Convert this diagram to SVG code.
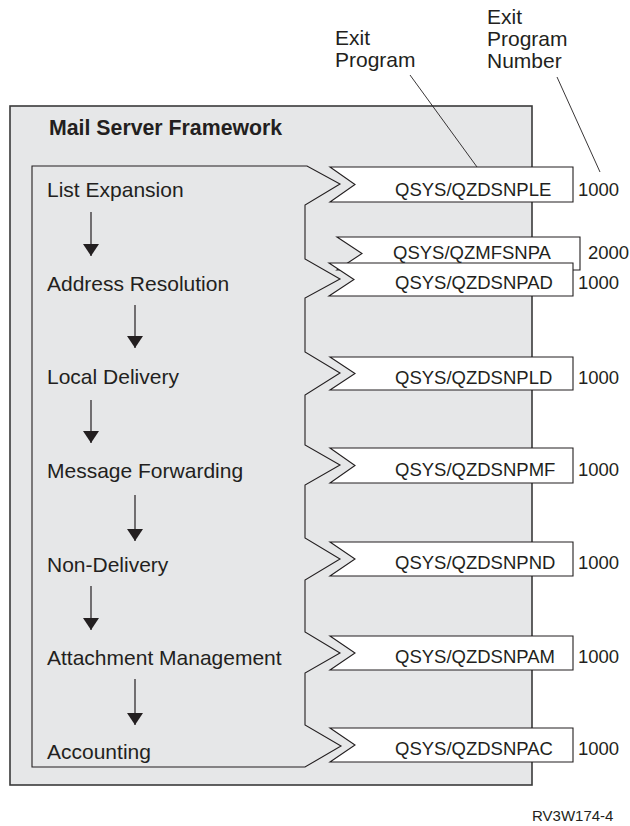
<svg xmlns="http://www.w3.org/2000/svg" width="630" height="826" viewBox="0 0 630 826">
<style>
text{font-family:"Liberation Sans",Arial,Helvetica,sans-serif;fill:#231f20}
.lbl{font-size:21px}
.title{font-size:21.3px;font-weight:bold}
.pgm{font-size:18.5px}
.num{font-size:18.5px}
.box{fill:#ffffff;stroke:#231f20;stroke-width:1.1}
.flow{stroke:#231f20;stroke-width:1.2;fill:none}
.leader{stroke:#231f20;stroke-width:0.9;fill:none}
</style>
<defs>
<marker id="ah" markerUnits="userSpaceOnUse" markerWidth="12" markerHeight="16" refX="12" refY="8" orient="auto" viewBox="0 0 12 16">
<path d="M0,0 L12,8 L0,16 z" fill="#231f20"/>
</marker>
</defs>
<rect width="630" height="826" fill="#ffffff"/>

<g id="framework">
<rect x="10" y="106" width="522" height="679" fill="#e6e7e8" stroke="#3a3a3a" stroke-width="1.6"/>
<text class="title" x="49" y="135">Mail Server Framework</text>
<path d="M32,166 L307,166 L340,184 L305,205 L305,259 L340,279 L305,298 L305,352 L340,373 L305,395 L305,445 L340,465 L305,485 L305,538 L340,559 L305,580 L305,632 L340,653 L305,673 L305,725 L341,746 L305,767 L32,767 Z" fill="#e6e7e8" stroke="#231f20" stroke-width="1.1"/>
</g>

<g id="stage-list-expansion"><text class="lbl" x="47" y="197">List Expansion</text></g>
<g id="stage-address-resolution"><text class="lbl" x="47" y="291">Address Resolution</text></g>
<g id="stage-local-delivery"><text class="lbl" x="47" y="384">Local Delivery</text></g>
<g id="stage-message-forwarding"><text class="lbl" x="47" y="478">Message Forwarding</text></g>
<g id="stage-non-delivery"><text class="lbl" x="47" y="572">Non-Delivery</text></g>
<g id="stage-attachment-management"><text class="lbl" x="47" y="665">Attachment Management</text></g>
<g id="stage-accounting"><text class="lbl" x="47" y="759">Accounting</text></g>

<g id="exit-qzdsnple">
<path class="box" d="M330,167 L573,167 L573,202 L330,202 L355,184.5 Z"/>
<text class="pgm" x="395" y="195.5">QSYS/QZDSNPLE</text>
<text class="num" x="578" y="195.5">1000</text>
</g>
<g id="exit-qzmfsnpa">
<path class="box" d="M337,237 L580,237 L580,270 L337,270 L362,253.5 Z"/>
<text class="pgm" x="393" y="258.5">QSYS/QZMFSNPA</text>
<text class="num" x="588" y="258.5">2000</text>
</g>
<g id="exit-qzdsnpad">
<path class="box" d="M329,263 L573,263 L573,296 L329,296 L354,279.5 Z"/>
<text class="pgm" x="395" y="288.5">QSYS/QZDSNPAD</text>
<text class="num" x="578" y="288.5">1000</text>
</g>
<g id="exit-qzdsnpld">
<path class="box" d="M330,357 L573,357 L573,390 L330,390 L355,373.5 Z"/>
<text class="pgm" x="395" y="384">QSYS/QZDSNPLD</text>
<text class="num" x="578" y="384">1000</text>
</g>
<g id="exit-qzdsnpmf">
<path class="box" d="M330,448 L573,448 L573,483 L330,483 L355,465.5 Z"/>
<text class="pgm" x="395" y="476">QSYS/QZDSNPMF</text>
<text class="num" x="578" y="476">1000</text>
</g>
<g id="exit-qzdsnpnd">
<path class="box" d="M330,542 L573,542 L573,576 L330,576 L355,559 Z"/>
<text class="pgm" x="395" y="569">QSYS/QZDSNPND</text>
<text class="num" x="578" y="569">1000</text>
</g>
<g id="exit-qzdsnpam">
<path class="box" d="M330,636 L573,636 L573,670 L330,670 L355,653 Z"/>
<text class="pgm" x="395" y="663">QSYS/QZDSNPAM</text>
<text class="num" x="578" y="663">1000</text>
</g>
<g id="exit-qzdsnpac">
<path class="box" d="M330,728 L573,728 L573,762 L330,762 L355,745 Z"/>
<text class="pgm" x="395" y="755">QSYS/QZDSNPAC</text>
<text class="num" x="578" y="755">1000</text>
</g>

<g id="label-exit-program">
<text class="lbl" x="335" y="45">Exit</text>
<text class="lbl" x="335" y="67">Program</text>
</g>
<g id="label-exit-program-number">
<text class="lbl" x="487" y="24">Exit</text>
<text class="lbl" x="487" y="46">Program</text>
<text class="lbl" x="487" y="68">Number</text>
</g>

<g id="connectors">
<line class="flow" x1="91" y1="212" x2="91" y2="256" marker-end="url(#ah)"/>
<line class="flow" x1="135" y1="305" x2="135" y2="348" marker-end="url(#ah)"/>
<line class="flow" x1="91" y1="400" x2="91" y2="443" marker-end="url(#ah)"/>
<line class="flow" x1="135" y1="495" x2="135" y2="541" marker-end="url(#ah)"/>
<line class="flow" x1="91" y1="586" x2="91" y2="630" marker-end="url(#ah)"/>
<line class="flow" x1="135" y1="679" x2="135" y2="725" marker-end="url(#ah)"/>
<line class="leader" x1="410" y1="75" x2="477" y2="167"/>
<line class="leader" x1="557" y1="77" x2="600" y2="172"/>
</g>

<text x="532" y="821" style="font-size:15px">RV3W174-4</text>
</svg>
